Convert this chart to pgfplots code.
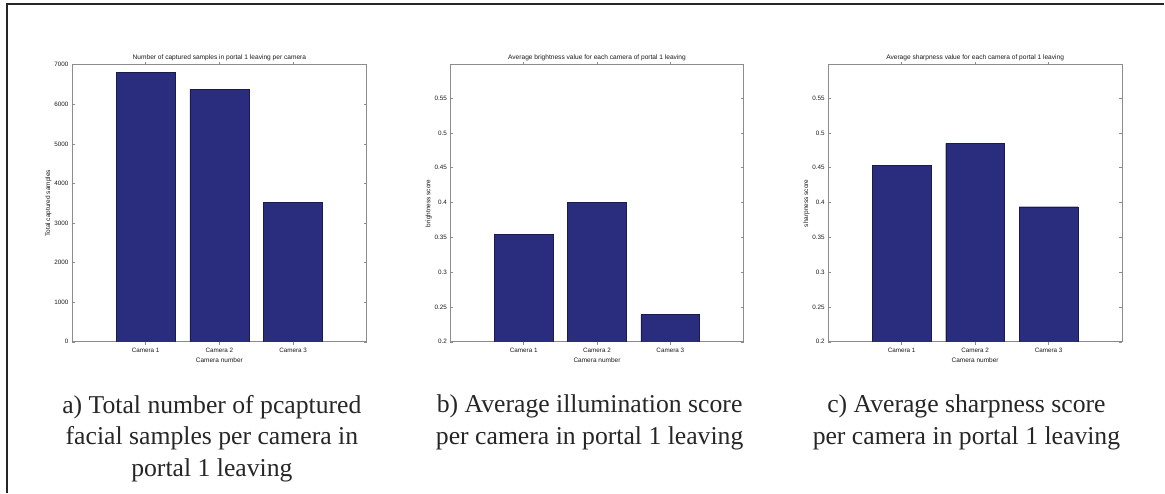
\documentclass[border=0pt]{standalone}
\usepackage{pgfplots}
\pgfplotsset{compat=1.18}
\usepackage{fontspec}
\setmainfont{Liberation Serif}
\newfontfamily\plotfont{Liberation Sans}

\definecolor{barblue}{RGB}{42,45,126}
\definecolor{axgray}{RGB}{140,140,140}

\pgfplotsset{
  camstyle/.style={
    scale only axis,
    width=294pt, height=277.3pt,
    anchor=south west,
    xmin=0, xmax=4,
    xtick={1,2,3},
    xticklabels={Camera 1,Camera 2,Camera 3},
    xlabel={Camera number},
    axis line style={axgray, line width=0.6pt},
    tick style={axgray, line width=0.5pt},
    major tick length=3pt,
    tick align=inside,
    ticklabel style={font=\plotfont\fontsize{6.3}{7}\selectfont, text=black!90},
    label style={font=\plotfont\fontsize{6.5}{7.5}\selectfont, text=black!90},
    title style={font=\plotfont\fontsize{6.6}{7.5}\selectfont, text=black!90, yshift=-5.5pt},
    xlabel style={yshift=2pt},
    ylabel style={yshift=-4pt},
    /pgf/number format/assume math mode=true,
    /pgf/number format/1000 sep={},
    ybar, bar width=0.8, bar shift=0pt,
  },
  camplot/.style={fill=barblue, draw=barblue!60!black, line width=0.4pt},
}

\begin{document}
\begin{tikzpicture}[x=1pt,y=1pt]
  % page extent and frame
  \path (0,0) rectangle (1165,493);
  \draw[line width=1.4pt, black!85] (7,0) -- (7,489) -- (1165,489);

  % (a) captured samples
  \begin{axis}[camstyle, at={(72pt,151pt)}, width=295pt,
    ymin=0, ymax=7000, ytick={0,1000,...,7000},
    ylabel={Total captured samples},
    title={Number of captured samples in portal 1 leaving per camera}]
    \addplot[camplot] coordinates {(1,6800) (2,6380) (3,3530)};
  \end{axis}

  % (b) brightness
  \begin{axis}[camstyle, at={(450.7pt,151pt)}, width=293.3pt,
    ymin=0.2, ymax=0.598, ytick={0.2,0.25,...,0.56},
    yticklabel style={/pgf/number format/fixed, /pgf/number format/precision=2},
    ylabel={brightness score},
    title={Average brightness value for each camera of portal 1 leaving}]
    \addplot[camplot] coordinates {(1,0.354) (2,0.400) (3,0.239)};
  \end{axis}

  % (c) sharpness
  \begin{axis}[camstyle, at={(828.7pt,151pt)}, width=294pt,
    ymin=0.2, ymax=0.598, ytick={0.2,0.25,...,0.56},
    yticklabel style={/pgf/number format/fixed, /pgf/number format/precision=2},
    ylabel={sharpness score},
    title={Average sharpness value for each camera of portal 1 leaving}]
    \addplot[camplot] coordinates {(1,0.453) (2,0.485) (3,0.394)};
  \end{axis}

  % captions
  \begin{scope}[every node/.style={align=center, anchor=north, inner sep=0pt,
      text=black!85, font=\fontsize{25.7}{31.5}\selectfont}]
    \node at (212,98) {a) Total number of pcaptured\\facial samples per camera in\\portal 1 leaving};
    \node at (590,98) {b) Average illumination score\\per camera in portal 1 leaving};
    \node at (967,98) {c) Average sharpness score\\per camera in portal 1 leaving};
  \end{scope}
\end{tikzpicture}
\end{document}
